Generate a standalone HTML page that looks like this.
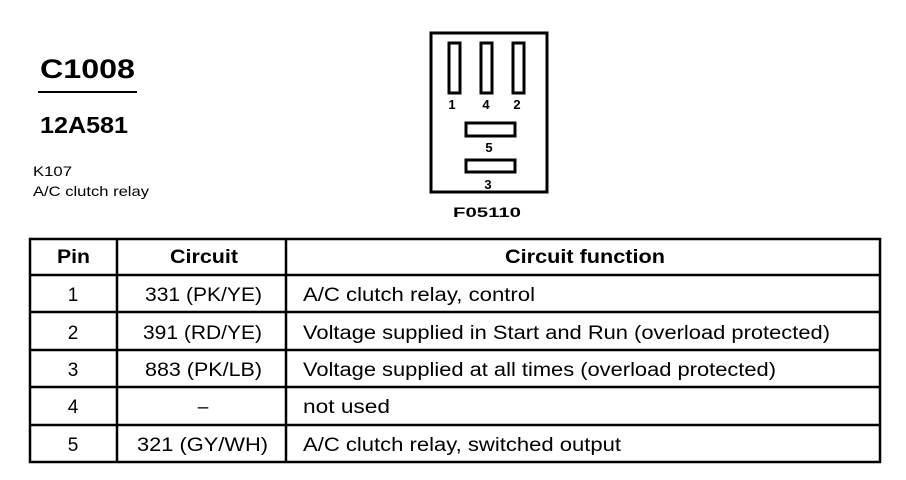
<!DOCTYPE html>
<html><head><meta charset="utf-8"><style>
html,body{margin:0;padding:0;background:#fff;}
svg{display:block;}
text{font-family:"Liberation Sans",Arial,sans-serif;fill:#000;}
</style></head><body>
<svg width="906" height="480" viewBox="0 0 906 480" xmlns="http://www.w3.org/2000/svg">
<text x="40" y="78" font-size="27" font-weight="bold" textLength="95" lengthAdjust="spacingAndGlyphs">C1008</text>
<rect x="38" y="91" width="99" height="2" fill="#000"/>
<text x="40" y="133" font-size="23" font-weight="bold" textLength="88" lengthAdjust="spacingAndGlyphs">12A581</text>
<text x="33" y="176" font-size="14" textLength="39" lengthAdjust="spacingAndGlyphs">K107</text>
<text x="33" y="196" font-size="14" textLength="116" lengthAdjust="spacingAndGlyphs">A/C clutch relay</text>

<g fill="none" stroke="#000">
<rect x="431" y="33" width="116" height="159" stroke-width="3"/>
<rect x="449" y="43" width="11" height="50" stroke-width="3"/>
<rect x="481" y="43" width="11" height="50" stroke-width="3"/>
<rect x="513" y="43" width="11" height="50" stroke-width="3"/>
<rect x="466" y="123" width="49" height="13" stroke-width="3"/>
<rect x="466" y="160" width="49" height="12" stroke-width="3"/>
</g>
<g font-size="13" font-weight="bold" text-anchor="middle">
<text x="452" y="109">1</text>
<text x="486" y="109">4</text>
<text x="517" y="109">2</text>
<text x="489" y="152">5</text>
<text x="488" y="189">3</text>
</g>
<text x="453" y="217" font-size="14" font-weight="bold" textLength="68" lengthAdjust="spacingAndGlyphs">F05110</text>

<g stroke="#000" stroke-width="2.5" fill="none">
<rect x="30" y="239" width="850" height="223"/>
<line x1="30" y1="275" x2="880" y2="275"/>
<line x1="30" y1="312" x2="880" y2="312"/>
<line x1="30" y1="350" x2="880" y2="350"/>
<line x1="30" y1="387" x2="880" y2="387"/>
<line x1="30" y1="425" x2="880" y2="425"/>
<line x1="117" y1="239" x2="117" y2="462"/>
<line x1="286" y1="239" x2="286" y2="462"/>
</g>
<g font-size="19" font-weight="bold">
<text x="57" y="263" textLength="33" lengthAdjust="spacingAndGlyphs">Pin</text>
<text x="170" y="263" textLength="68" lengthAdjust="spacingAndGlyphs">Circuit</text>
<text x="505" y="263" textLength="160" lengthAdjust="spacingAndGlyphs">Circuit function</text>
</g>
<g font-size="19" text-anchor="middle">
<text x="73" y="301">1</text>
<text x="73" y="339">2</text>
<text x="73" y="376">3</text>
<text x="73" y="413">4</text>
<text x="73" y="451">5</text>
<text x="203" y="413">–</text>
</g>
<g font-size="19">
<text x="145" y="301" textLength="117" lengthAdjust="spacingAndGlyphs">331 (PK/YE)</text>
<text x="143" y="339" textLength="119" lengthAdjust="spacingAndGlyphs">391 (RD/YE)</text>
<text x="145" y="376" textLength="117" lengthAdjust="spacingAndGlyphs">883 (PK/LB)</text>
<text x="137" y="451" textLength="131" lengthAdjust="spacingAndGlyphs">321 (GY/WH)</text>
<text x="303" y="301" textLength="232" lengthAdjust="spacingAndGlyphs">A/C clutch relay, control</text>
<text x="303" y="339" textLength="527" lengthAdjust="spacingAndGlyphs">Voltage supplied in Start and Run (overload protected)</text>
<text x="303" y="376" textLength="473" lengthAdjust="spacingAndGlyphs">Voltage supplied at all times (overload protected)</text>
<text x="303" y="413" textLength="87" lengthAdjust="spacingAndGlyphs">not used</text>
<text x="303" y="451" textLength="318" lengthAdjust="spacingAndGlyphs">A/C clutch relay, switched output</text>
</g>
</svg>
</body></html>
